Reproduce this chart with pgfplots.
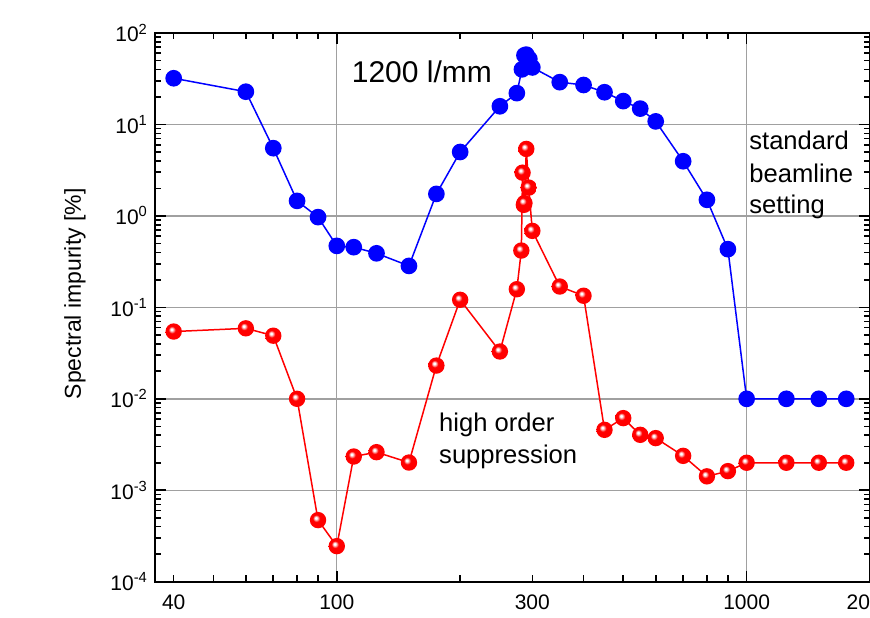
\documentclass[border=0pt]{standalone}
\usepackage{fontspec}
\setmainfont{Liberation Sans}
\usepackage{pgfplots}
\pgfplotsset{compat=1.18}
\definecolor{gridgray}{RGB}{160,160,160}
\pgfdeclareradialshading{redballshade}{\pgfqpoint{-7bp}{7bp}}{%
  color(0bp)=(white); color(3bp)=(white); color(11bp)=(red);
  color(27bp)=(red); color(42bp)=(red!82!black); color(50bp)=(red!82!black)}
\pgfdeclareplotmark{redball}{%
  \pgfpathcircle{\pgfpointorigin}{\pgfplotmarksize}%
  \pgfshadepath{redballshade}{0}%
  \pgfusepath{discard}}
\begin{document}
\begin{tikzpicture}
\begin{axis}[
  name=ax,
  xmode=log, ymode=log,
  scale only axis,
  width=357.7pt, height=274.5pt,
  xmin=36, xmax=2000, ymin=1e-4, ymax=100,
  axis line style={line width=1pt},
  xtick={100,1000}, xticklabels={100,1000},
  extra x ticks={40,300,2000}, extra x tick labels={40,300,2000},
  extra x tick style={grid=none, major tick length=3.2pt},
  minor xtick={40,50,60,70,80,90,200,300,400,500,600,700,800,900,2000},
  ytick={1e-4,1e-3,1e-2,1e-1,1,10,100},
  yticklabels={10\textsuperscript{-4},10\textsuperscript{-3},10\textsuperscript{-2},10\textsuperscript{-1},10\textsuperscript{0},10\textsuperscript{1},10\textsuperscript{2}},
  minor ytick={2e-4,3e-4,4e-4,5e-4,6e-4,7e-4,8e-4,9e-4,
               2e-3,3e-3,4e-3,5e-3,6e-3,7e-3,8e-3,9e-3,
               2e-2,3e-2,4e-2,5e-2,6e-2,7e-2,8e-2,9e-2,
               0.2,0.3,0.4,0.5,0.6,0.7,0.8,0.9,
               2,3,4,5,6,7,8,9,
               20,30,40,50,60,70,80,90},
  major tick length=5.5pt, minor tick length=3.2pt,
  tick style={line width=0.8pt, black},
  xmajorgrids, ymajorgrids,
  major grid style={line width=0.7pt, gridgray},
  tick label style={font=\fontsize{10.5}{12}\selectfont},
  xticklabel style={yshift=-3pt},
  ylabel={Spectral impurity [\%]},
  ylabel style={at={(axis description cs:-0.112,0.5246)}, anchor=center, font=\fontsize{11.5}{13}\selectfont},
]
\addplot[blue, line width=0.75pt, mark=*, mark size=3.8pt, mark options={fill=blue, draw=none}] coordinates {
(40,32) (60,22.8) (70,5.5) (80,1.46) (90,0.97) (100,0.47) (110,0.455) (125,0.39)
(150,0.284) (175,1.74) (200,5.0) (250,15.8) (275,22) (283,40) (287,57) (290,58)
(295,52) (300,42) (350,29) (400,27) (450,22.5) (500,18) (550,14.9) (600,10.8)
(700,3.96) (800,1.50) (900,0.433) (1000,0.01) (1250,0.01) (1500,0.01) (1750,0.01)
};
\addplot[red, line width=0.75pt, mark=redball, mark size=4.1pt] coordinates {
(40,0.0544) (60,0.059) (70,0.049) (80,0.01) (90,4.72e-4) (100,2.45e-4) (110,2.34e-3)
(125,2.61e-3) (150,2.01e-3) (175,0.0231) (200,0.121) (250,0.0329) (275,0.158)
(282,0.418) (284,2.97) (286,1.32) (287,1.38) (290,5.4) (294,2.04) (300,0.686)
(350,0.169) (400,0.134) (450,4.58e-3) (500,6.15e-3) (550,4.04e-3) (600,3.72e-3)
(700,2.38e-3) (800,1.42e-3) (900,1.62e-3) (1000,2e-3) (1250,2e-3) (1500,2e-3) (1750,2e-3)
};
\node[anchor=base west, inner sep=0pt, font=\fontsize{15}{18}\selectfont] at (axis cs:108.6,29.1) {1200 l/mm};
\node[anchor=base west, inner sep=0pt, font=\fontsize{12.8}{16}\selectfont] at (axis cs:1013,5.26) {standard};
\node[anchor=base west, inner sep=0pt, font=\fontsize{12.8}{16}\selectfont] at (axis cs:1013,2.335) {beamline};
\node[anchor=base west, inner sep=0pt, font=\fontsize{12.8}{16}\selectfont] at (axis cs:1013,1.07) {setting};
\node[anchor=base west, inner sep=0pt, font=\fontsize{12.8}{16}\selectfont] at (axis cs:177.4,0.0044) {high order};
\node[anchor=base west, inner sep=0pt, font=\fontsize{12.8}{16}\selectfont] at (axis cs:177.4,0.00198) {suppression};
\end{axis}
\pgfresetboundingbox
\useasboundingbox ([xshift=-77.5pt,yshift=-18pt]ax.south west) rectangle ([yshift=16.5pt]ax.north east);
\end{tikzpicture}
\end{document}
